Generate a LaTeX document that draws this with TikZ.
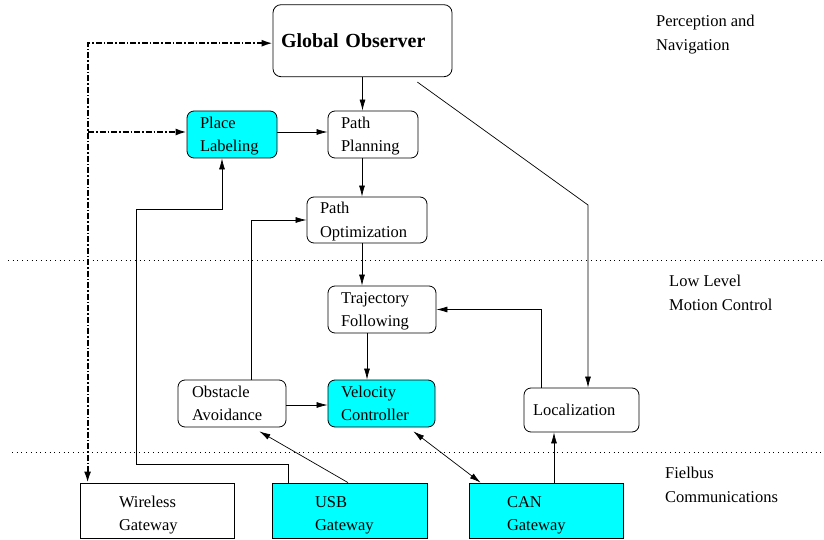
\documentclass[tikz,border=0pt]{standalone}
\usepackage{fontspec}
\setmainfont{Liberation Serif}
\usetikzlibrary{arrows.meta,calc}
\definecolor{cyanfill}{RGB}{0,255,255}
% invisible struts fixing where two-line labels sit inside their frames
\newcommand\linetop{\rule{0pt}{15pt}}
\newcommand\linebot{\rule[-4pt]{0pt}{4pt}}
\newcommand\gatetop{\rule{0pt}{21pt}}

\begin{document}
\begin{tikzpicture}[x=1pt,y=-1pt,
  font=\fontsize{16.5}{23.4}\selectfont,
  box/.style={draw, line width=0.8pt, rounded corners=7pt, align=left, inner ysep=0pt},
  gate/.style={draw, line width=0.8pt, align=left, inner ysep=0pt, minimum height=55pt,
               font=\fontsize{16.5}{22.4}\selectfont},
  hot/.style={fill=cyanfill},
  arr/.style={line width=0.7pt, -{Latex[length=11pt,width=6pt]}},
  darr/.style={line width=0.7pt, {Latex[length=11pt,width=6pt]}-{Latex[length=11pt,width=6pt]}},
  dashdot/.style={line width=1.8pt, dash pattern=on 6pt off 2pt on 1.5pt off 2pt},
  sep/.style={line width=0.8pt, dash pattern=on 0.9pt off 3.8pt},
  layer/.style={anchor=west, align=left, inner sep=0pt, font=\fontsize{16.5}{24}\selectfont}
]
\useasboundingbox (0,0) rectangle (824,540);

% layer separators
\draw[sep] (8,260) -- (824,260);
\draw[sep] (12,452) -- (824,452);

% layer captions
\node[layer] (capnav) at (656,33) {\linetop Perception and\\Navigation\linebot};
\node[layer] (capmot) at (669,293) {\linetop Low Level\\Motion Control\linebot};
\node[layer] (capbus) at (665,484.5) {\linetop Fielbus\\Communications\linebot};

% processing blocks
\node[box, rounded corners=8pt, text width=163pt, inner xsep=8pt, minimum height=72pt,
      font=\fontsize{20}{24}\selectfont\bfseries] (GO) at (362.5,40.7) {Global Observer};
\node[box, hot, text width=64pt, inner xsep=13pt, minimum height=47pt] (PL) at (232,134.5) {\linetop Place\\Labeling\linebot};
\node[box, text width=64pt, inner xsep=13pt, minimum height=47pt] (PP) at (373,134.5) {\linetop Path\\Planning\linebot};
\node[box, text width=94pt, inner xsep=13pt, minimum height=46pt] (PO) at (367,220) {\linetop Path\\Optimization\linebot};
\node[box, text width=82pt, inner xsep=13pt, minimum height=47pt] (TF) at (382,309.5) {\linetop Trajectory\\Following\linebot};
\node[box, text width=80pt, inner xsep=14pt, minimum height=47pt] (OA) at (232,403.5) {\linetop Obstacle\\Avoidance\linebot};
\node[box, hot, text width=81pt, inner xsep=13pt, minimum height=47pt] (VC) at (381.5,403.5) {\linetop Velocity\\Controller\linebot};
\node[box, text width=97pt, inner xsep=9pt, minimum height=44pt] (LOC) at (581.5,410) {Localization};

% fieldbus gateways
\node[gate, text width=76pt, inner xsep=39pt] (WG) at (157,510.5) {\gatetop Wireless\\Gateway\linebot};
\node[gate, hot, text width=69pt, inner xsep=43pt] (USB) at (349.5,510.5) {\gatetop USB\\Gateway\linebot};
\node[gate, hot, text width=78pt, inner xsep=38pt] (CAN) at (546,510.5) {\gatetop CAN\\Gateway\linebot};

% routing points
\coordinate (gobend) at (588,205);
\coordinate (u1) at (136,464);
\coordinate (u2) at (222,209);
\coordinate (j2) at (88,132);

% planning chain
\draw[arr] (GO.south) -- (GO.south |- PP.north);
\draw[arr] ([yshift=2.5pt]PL.east) -- ([yshift=2.5pt]PP.west);
\draw[arr] ([xshift=-11pt]PP.south) -- ([xshift=-5pt]PO.north);
\draw[arr] ([xshift=-5pt]PO.south) -- ([xshift=-20pt]TF.north);
\draw[arr] ([xshift=-15pt]TF.south) -- ([xshift=-14.5pt]VC.north);
\draw[arr] ([yshift=-1.5pt]OA.east) -- ([yshift=-1.5pt]VC.west);
\draw[arr] ([xshift=19pt]OA.north) |- (PO.west);
\draw[arr] ([xshift=-40.5pt]LOC.north) |- (TF.east);
\draw[arr] ([xshift=-35pt,yshift=-5pt]GO.south east) -- (gobend) -- ([xshift=6.5pt]LOC.north);

% gateway links
\draw[arr] ([xshift=8pt]CAN.north) -- ([xshift=-27.5pt]LOC.south);
\draw[darr] ([xshift=12pt]CAN.north west) -- ([xshift=-22pt,yshift=-4pt]VC.south east);
\draw[arr] ([xshift=-1.5pt]USB.north) -- ([xshift=-27pt,yshift=-4pt]OA.south east);
\draw[arr] ([xshift=17pt]USB.north west) |- (u1) |- (u2) -- ([xshift=-10pt]PL.south);

% wireless link
\draw[dashdot, {Latex[length=11pt,width=7pt]}-{Latex[length=11pt,width=7pt]}]
  ([yshift=-2.5pt]GO.west) -| ([xshift=8pt]WG.north west);
\draw[dashdot, -{Latex[length=11pt,width=7pt]}] (j2) -- (j2 -| PL.west);
\end{tikzpicture}
\end{document}
